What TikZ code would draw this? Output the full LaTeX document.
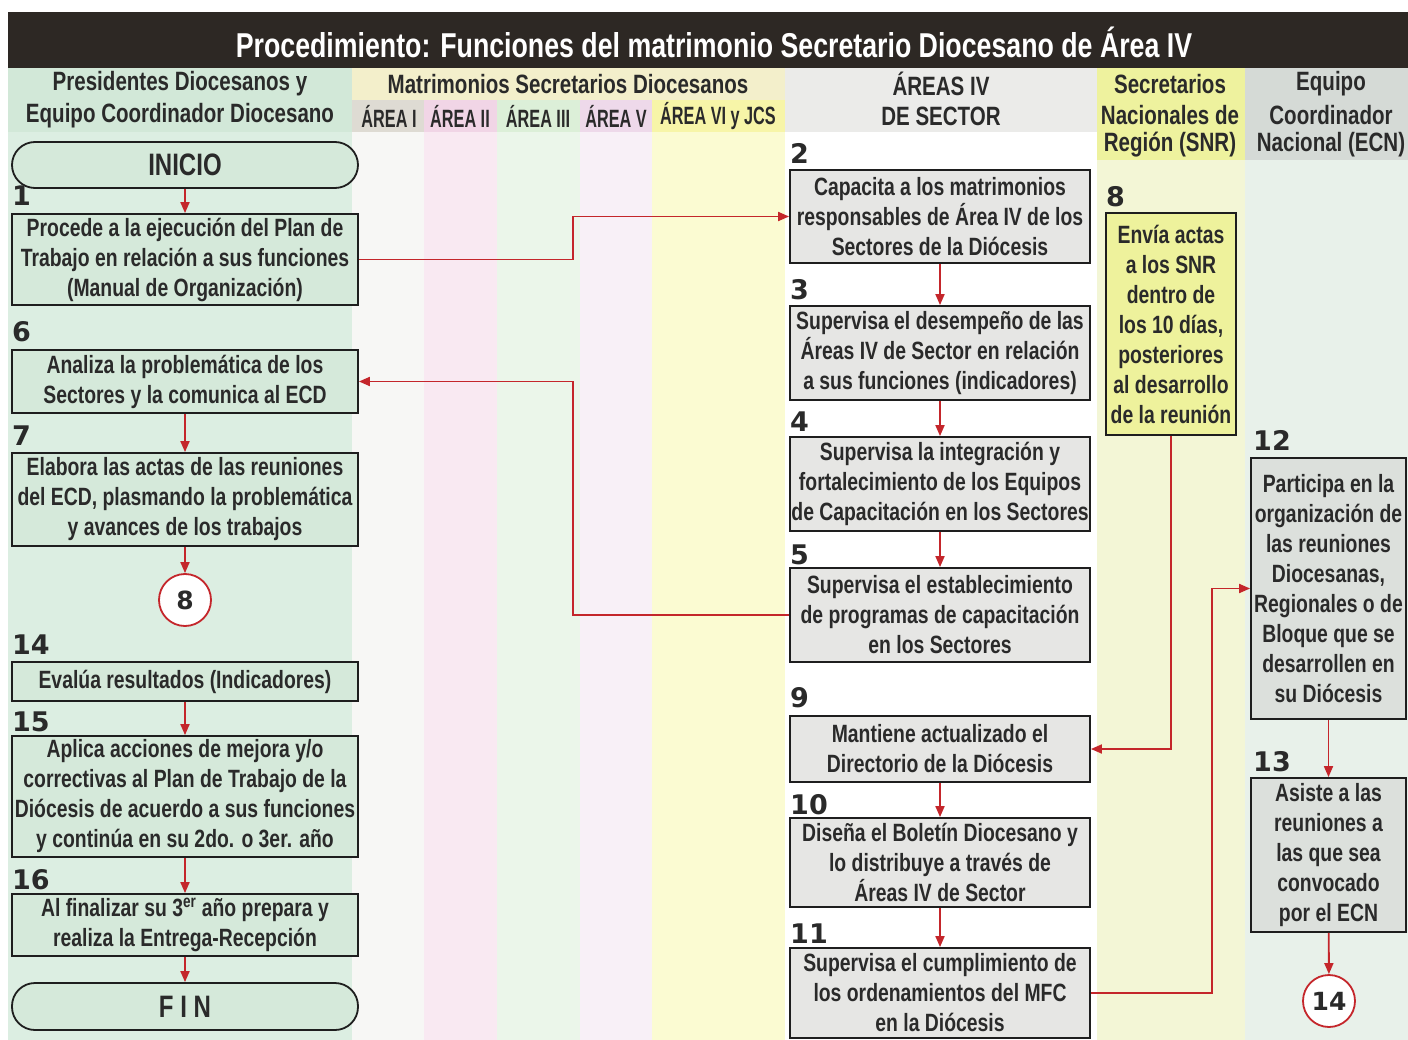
\documentclass[tikz,border=0pt]{standalone}
\usepackage{fontspec}
\setmainfont{Liberation Sans}[FakeStretch=0.775]
\newfontfamily\narrowfont{Liberation Sans}[FakeStretch=0.65]
\newfontfamily\numfont{DejaVu Sans}
\usetikzlibrary{arrows.meta}
\definecolor{titlebg}{HTML}{2D2824}
\definecolor{boxline}{HTML}{1E1E1E}
\definecolor{arrred}{HTML}{C4262B}
\definecolor{txt}{HTML}{2A2A2A}
\definecolor{leftfill}{HTML}{D5E9DA}
\definecolor{midfill}{HTML}{E6E6E4}
\definecolor{snrfill}{HTML}{EEF29C}
\definecolor{ecnfill}{HTML}{DCE0DC}
\definecolor{colonehead}{HTML}{D2E8D8}
\definecolor{colonebody}{HTML}{DCEEE2}
\definecolor{matrhead}{HTML}{F3EFCB}
\definecolor{aIhead}{HTML}{DEDBD3}
\definecolor{aIIhead}{HTML}{F1D5E6}
\definecolor{aIIIhead}{HTML}{DCEFD8}
\definecolor{aVhead}{HTML}{EED9EA}
\definecolor{aVIhead}{HTML}{F7F5A8}
\definecolor{aIbody}{HTML}{F7F7F5}
\definecolor{aIIbody}{HTML}{F9E9F2}
\definecolor{aIIIbody}{HTML}{EBF6EA}
\definecolor{aVbody}{HTML}{F8F0F7}
\definecolor{aVIbody}{HTML}{FBFBD2}
\definecolor{secthead}{HTML}{EBEBE9}
\definecolor{snrhead}{HTML}{EEF29E}
\definecolor{snrbody}{HTML}{F3F6D6}
\definecolor{ecnhead}{HTML}{D5DAD6}
\definecolor{ecnbody}{HTML}{E8F1EA}
\tikzset{
  box/.style={draw=boxline, line width=1.8pt, align=center, inner sep=0pt, text=txt,
    font=\bfseries\fontsize{25}{30}\selectfont},
  leftbox/.style={box, fill=leftfill, minimum width=346pt},
  midbox/.style={box, fill=midfill, minimum width=300pt},
  term/.style={box, fill=leftfill, minimum width=346pt, rounded corners=23pt,
    font=\bfseries\fontsize{31}{34}\selectfont},
  conn/.style={draw=arrred, fill=white, line width=1.8pt, circle, minimum size=52pt,
    inner sep=0pt, text=txt, font=\numfont\bfseries\fontsize{25}{28}\selectfont},
  stepnum/.style={anchor=west, inner sep=0pt, text=txt, font=\numfont\bfseries\fontsize{27}{30}\selectfont},
  head/.style={text=txt, inner sep=0pt, font=\bfseries\fontsize{26.5}{30}\selectfont},
  subhead/.style={text=txt, inner sep=0pt, font=\narrowfont\bfseries\fontsize{25}{28}\selectfont},
  arr/.style={draw=arrred, line width=1.8pt, -{Triangle[length=11pt,width=9pt]}},
}
\begin{document}
\begin{tikzpicture}[x=1pt,y=-1pt]
\useasboundingbox (0,0) rectangle (1408,1040);
\fill[white] (0,0) rectangle (1408,1040);
% backgrounds
\fill[titlebg] (8,12) rectangle (1408,68);
\fill[colonehead] (8,68) rectangle (352,132);
\fill[colonebody] (8,132) rectangle (352,1040);
\fill[matrhead] (352,68) rectangle (785,100);
\fill[aIhead] (352,100) rectangle (424,132);
\fill[aIIhead] (424,100) rectangle (497,132);
\fill[aIIIhead] (497,100) rectangle (580,132);
\fill[aVhead] (580,100) rectangle (652,132);
\fill[aVIhead] (652,100) rectangle (785,132);
\fill[aIbody] (352,132) rectangle (424,1040);
\fill[aIIbody] (424,132) rectangle (497,1040);
\fill[aIIIbody] (497,132) rectangle (580,1040);
\fill[aVbody] (580,132) rectangle (652,1040);
\fill[aVIbody] (652,132) rectangle (785,1040);
\fill[secthead] (785,68) rectangle (1097,132);
\fill[snrhead] (1097,68) rectangle (1245,160);
\fill[snrbody] (1097,160) rectangle (1245,1040);
\fill[ecnhead] (1245,68) rectangle (1408,160);
\fill[ecnbody] (1245,160) rectangle (1408,1040);
% title and headers
\node[text=white, inner sep=0pt, font=\bfseries\fontsize{34.5}{38}\selectfont] (title) at (714,42)
  {Procedimiento: Funciones del matrimonio Secretario Diocesano de Área IV};
\node[head] (h1a) at (180,84) {Presidentes Diocesanos y};
\node[head] (h1b) at (180,116) {Equipo Coordinador Diocesano};
\node[head] (h2) at (568,84) {Matrimonios Secretarios Diocesanos};
\node[subhead] (sa1) at (389,116) {ÁREA I};
\node[subhead] (sa2) at (460,116) {ÁREA II};
\node[subhead] (sa3) at (538,116) {ÁREA III};
\node[subhead] (sa5) at (616,116) {ÁREA V};
\node[subhead] (sa6) at (718,116) {ÁREA VI y JCS};
\node[head] (h3a) at (941,84) {ÁREAS IV};
\node[head] (h3b) at (941,116) {DE SECTOR};
\node[head] (h4a) at (1170,84) {Secretarios};
\node[head] (h4b) at (1170,115) {Nacionales de};
\node[head] (h4c) at (1170,145) {Región (SNR)};
\node[head] (h5a) at (1331,84) {Equipo};
\node[head] (h5b) at (1331,115) {Coordinador};
\node[head] (h5c) at (1331,145) {Nacional (ECN)};
% left column
\node[term, minimum height=46pt] (ini) at (185,165) {INICIO};
\node[stepnum] (n1) at (12,196) {1};
\node[leftbox, minimum height=91pt] (b1) at (185,259.5)
  {Procede a la ejecución del Plan de\\Trabajo en relación a sus funciones\\(Manual de Organización)};
\node[stepnum] (n6) at (12,332) {6};
\node[leftbox, minimum height=63pt] (b6) at (185,381.5)
  {Analiza la problemática de los\\Sectores y la comunica al ECD};
\node[stepnum] (n7) at (12,436) {7};
\node[leftbox, minimum height=93pt] (b7) at (185,499.5)
  {Elabora las actas de las reuniones\\del ECD, plasmando la problemática\\y avances de los trabajos};
\node[conn] (c8) at (185,600) {8};
\node[stepnum] (n14) at (12,645) {14};
\node[leftbox, minimum height=39pt] (b14) at (185,681.5) {Evalúa resultados (Indicadores)};
\node[stepnum] (n15) at (12,722) {15};
\node[leftbox, minimum height=121pt] (b15) at (185,796.5)
  {Aplica acciones de mejora y/o\\correctivas al Plan de Trabajo de la\\Diócesis de acuerdo a sus funciones\\y continúa en su 2do. o 3er. año};
\node[stepnum] (n16) at (12,880) {16};
\node[leftbox, minimum height=62pt] (b16) at (185,925)
  {Al finalizar su 3\textsuperscript{er} año prepara y\\realiza la Entrega-Recepción};
\node[term, minimum height=47pt] (fin) at (185,1006.5) {F I N};
% middle column
\node[stepnum] (n2) at (790,153) {2};
\node[midbox, minimum height=93pt] (b2) at (940,216.5)
  {Capacita a los matrimonios\\responsables de Área IV de los\\Sectores de la Diócesis};
\node[stepnum] (n3) at (790,290) {3};
\node[midbox, minimum height=94pt] (b3) at (940,353)
  {Supervisa el desempeño de las\\Áreas IV de Sector en relación\\a sus funciones (indicadores)};
\node[stepnum] (n4) at (790,422) {4};
\node[midbox, minimum height=94pt] (b4) at (940,484)
  {Supervisa la integración y\\fortalecimiento de los Equipos\\de Capacitación en los Sectores};
\node[stepnum] (n5) at (790,555) {5};
\node[midbox, minimum height=94pt] (b5) at (940,615)
  {Supervisa el establecimiento\\de programas de capacitación\\en los Sectores};
\node[stepnum] (n9) at (790,698) {9};
\node[midbox, minimum height=66pt] (b9) at (940,749)
  {Mantiene actualizado el\\Directorio de la Diócesis};
\node[stepnum] (n10) at (790,805) {10};
\node[midbox, minimum height=89pt] (b10) at (940,862.5)
  {Diseña el Boletín Diocesano y\\lo distribuye a través de\\Áreas IV de Sector};
\node[stepnum] (n11) at (790,934) {11};
\node[midbox, minimum height=90pt] (b11) at (940,993)
  {Supervisa el cumplimiento de\\los ordenamientos del MFC\\en la Diócesis};
% SNR column
\node[stepnum] (n8) at (1106,197) {8};
\node[box, fill=snrfill, minimum width=130pt, minimum height=222pt] (b8) at (1171,324)
  {Envía actas\\a los SNR\\dentro de\\los 10 días,\\posteriores\\al desarrollo\\de la reunión};
% ECN column
\node[stepnum] (n12) at (1253,440) {12};
\node[box, fill=ecnfill, minimum width=155pt, minimum height=261pt] (b12) at (1328.5,588.5)
  {Participa en la\\organización de\\las reuniones\\Diocesanas,\\Regionales o de\\Bloque que se\\desarrollen en\\su Diócesis};
\node[stepnum] (n13) at (1253,762) {13};
\node[box, fill=ecnfill, minimum width=155pt, minimum height=154pt] (b13) at (1328.5,855)
  {Asiste a las\\reuniones a\\las que sea\\convocado\\por el ECN};
\node[conn] (c14) at (1329,1001) {14};
% connectors
\coordinate (m1) at (573,0);
\coordinate (m2) at (1212,0);
\draw[arr] (ini) -- (b1);
\draw[arr] (b1.east) -- (b1.east -| m1) |- (b2.west);
\draw[arr] (b6) -- (b7);
\draw[arr] (b7) -- (c8);
\draw[arr] (b14) -- (b15);
\draw[arr] (b15) -- (b16);
\draw[arr] (b16) -- (fin);
\draw[arr] (b2) -- (b3);
\draw[arr] (b3) -- (b4);
\draw[arr] (b4) -- (b5);
\draw[arr] (b5.west) -- (b5.west -| m1) |- (b6.east);
\draw[arr] (b8.south) |- (b9.east);
\draw[arr] (b9) -- (b10);
\draw[arr] (b10) -- (b11);
\draw[arr] (b11.east) -- (b11.east -| m2) |- (b12.west);
\draw[arr] (b12) -- (b13);
\draw[arr] (b13) -- (c14);
\end{tikzpicture}
\end{document}
